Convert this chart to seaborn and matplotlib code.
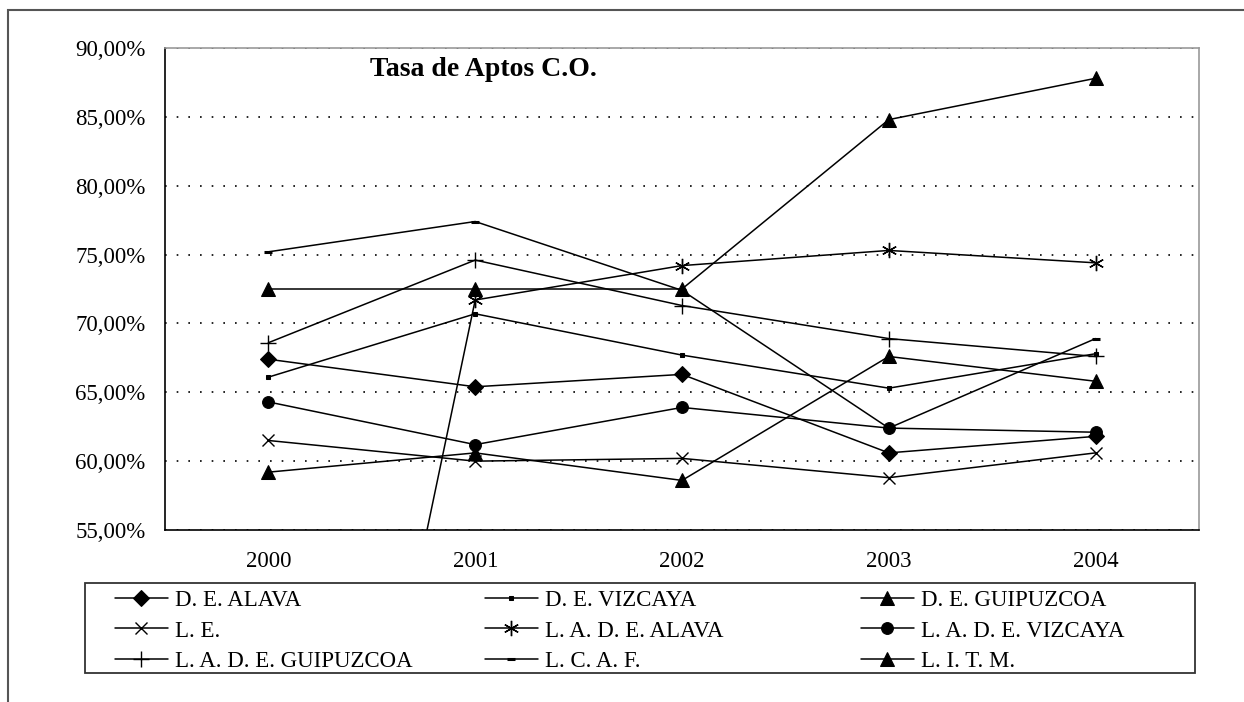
import matplotlib
matplotlib.use('Agg')
import matplotlib.pyplot as plt
from matplotlib.patches import Rectangle
from matplotlib.ticker import FuncFormatter
import numpy as np
import pandas as pd
import seaborn as sns

## Data ##

years = ['2000', '2001', '2002', '2003', '2004']
names = ['D. E. ALAVA', 'D. E. VIZCAYA', 'D. E. GUIPUZCOA',
         'L. E.', 'L. A. D. E. ALAVA', 'L. A. D. E. VIZCAYA',
         'L. A. D. E. GUIPUZCOA', 'L. C. A. F.', 'L. I. T. M.']

de_alava = [67.4, 65.4, 66.3, 60.6, 61.8]
de_vizcaya = [66.1, 70.7, 67.7, 65.3, 67.8]
de_guipuzcoa = [59.2, 60.6, 58.6, 67.6, 65.8]
le = [61.5, 60.0, 60.2, 58.8, 60.6]
lade_alava = [0.0, 71.7, 74.2, 75.3, 74.4]
lade_vizcaya = [64.3, 61.2, 63.9, 62.4, 62.1]
lade_guipuzcoa = [68.6, 74.6, 71.3, 68.9, 67.6]
lcaf = [75.2, 77.4, 72.4, 62.4, 68.9]
litm = [72.5, 72.5, 72.5, 84.8, 87.8]

series = [de_alava, de_vizcaya, de_guipuzcoa, le, lade_alava,
          lade_vizcaya, lade_guipuzcoa, lcaf, litm]

y_ticks = [55, 60, 65, 70, 75, 80, 85, 90]

# marker styles per series
styles = [
    dict(marker='D', markersize=8),
    dict(marker='s', markersize=2.5),
    dict(marker='^', markersize=10),
    dict(marker='x', markersize=9, markeredgewidth=1),
    dict(marker=(6, 2, 0), markersize=11, markeredgewidth=1),
    dict(marker='o', markersize=8.5),
    dict(marker='+', markersize=11, markeredgewidth=1),
    dict(marker='_', markersize=6, markeredgewidth=2.2),
    dict(marker='^', markersize=10),
]

## Plot ##

sns.set_style('white')
plt.rcParams['font.family'] = ['Liberation Serif', 'DejaVu Serif']
plt.rcParams['text.color'] = 'black'
plt.rcParams['xtick.color'] = 'black'
plt.rcParams['ytick.color'] = 'black'
plt.rcParams['axes.labelcolor'] = 'black'

W, H = 1244, 702
fig = plt.figure(figsize=(W / 100, H / 100), dpi=100)
ax = fig.add_axes([165 / W, 1 - 530 / H, (1199 - 165) / W, (530 - 48) / H])

for name, vals, st in zip(names, series, styles):
    df = pd.DataFrame({'pos': np.arange(len(years)), 'rate': vals})
    sns.lineplot(data=df, x='pos', y='rate', color='black', linewidth=1.1,
                 markeredgecolor='black', markerfacecolor='black',
                 legend=False, ax=ax, **st)

ax.set_xlim(-0.5, len(years) - 0.5)
ax.set_ylim(y_ticks[0], y_ticks[-1])
ax.set_xlabel('')
ax.set_ylabel('')

ax.set_xticks(range(len(years)))
ax.set_xticklabels(years)
ax.set_xticks(np.arange(-0.5, len(years), 1.0), minor=True)
ax.tick_params(axis='x', which='major', length=0, pad=15, labelsize=16.5, labelcolor='black')
ax.tick_params(axis='x', which='minor', length=5, width=1, direction='out', color='black')
ax.set_yticks(y_ticks)
ax.yaxis.set_major_formatter(FuncFormatter(lambda v, p: f'{v:.2f}%'.replace('.', ',')))
ax.tick_params(axis='y', length=6, width=1, direction='out', pad=8, labelsize=16.5,
               color='black', labelcolor='black')

ax.yaxis.grid(True, color='black', linestyle=(0, (1, 6)), linewidth=1.2)
ax.xaxis.grid(False)

for side in ['left', 'bottom']:
    ax.spines[side].set_color('black')
    ax.spines[side].set_linewidth(1.2)
for side in ['top', 'right']:
    ax.spines[side].set_color('#999999')
    ax.spines[side].set_linewidth(1.2)

fig.text(370 / W, 1 - 76 / H, 'Tasa de Aptos C.O.', fontsize=20, fontweight='bold',
         ha='left', va='baseline', color='black')

# legend, three columns filled row by row
handles = ax.lines[:len(names)]
col_x = [115, 485, 861]
for c, x0 in enumerate(col_x):
    idx = [c, c + 3, c + 6]
    leg = fig.legend([handles[i] for i in idx], [names[i] for i in idx],
                     loc='center left', bbox_to_anchor=(x0 / W, 1 - 631 / H),
                     frameon=False, borderpad=0, borderaxespad=0,
                     handlelength=2.3, handletextpad=0.3, labelspacing=0.42,
                     fontsize=16.5)
    for t in leg.get_texts():
        t.set_color('black')

fig.add_artist(Rectangle((85 / W, 1 - 673 / H), (1195 - 85) / W, 90 / H,
                         transform=fig.transFigure, fill=False,
                         edgecolor='#333333', linewidth=1.3))
fig.add_artist(Rectangle((8 / W, -0.1), 1.2, 1 - 10 / H + 0.1,
                         transform=fig.transFigure, fill=False,
                         edgecolor='#555555', linewidth=1.5))

fig.savefig('out.png', dpi=100)
